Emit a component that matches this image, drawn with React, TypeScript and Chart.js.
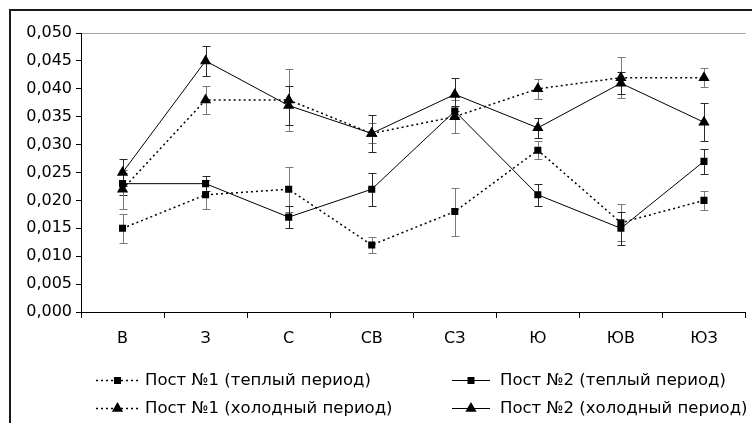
import React, { useEffect, useRef } from "react";
import { Chart, registerables } from "chart.js";

Chart.register(...registerables);

// ---- Data ----
const categories = ["В", "З", "С", "СВ", "СЗ", "Ю", "ЮВ", "ЮЗ"];

const seriesNames = [
  "Пост №1 (теплый период)",
  "Пост №2 (теплый период)",
  "Пост №1 (холодный период)",
  "Пост №2 (холодный период)",
];

const post1Warm = [0.015, 0.021, 0.022, 0.012, 0.018, 0.029, 0.016, 0.020];
const post1WarmErr = [0.0026, 0.0026, 0.004, 0.0014, 0.0043, 0.0016, 0.0033, 0.0017];

const post2Warm = [0.023, 0.023, 0.017, 0.022, 0.036, 0.021, 0.015, 0.027];
const post2WarmErr = [0.002, 0.0014, 0.002, 0.003, 0.001, 0.002, 0.003, 0.0023];

const post1Cold = [0.022, 0.038, 0.038, 0.032, 0.035, 0.040, 0.042, 0.042];
const post1ColdErr = [0.0035, 0.0025, 0.0055, 0.0018, 0.003, 0.0018, 0.0037, 0.0017];

const post2Cold = [0.025, 0.045, 0.037, 0.032, 0.039, 0.033, 0.041, 0.034];
const post2ColdErr = [0.0025, 0.0027, 0.0035, 0.0033, 0.003, 0.0018, 0.002, 0.0034];

const yMin = 0;
const yMax = 0.05;
const yStep = 0.005;

const FONT = "'DejaVu Sans', sans-serif";

type DS = {
  values: number[];
  errors: number[];
  dotted: boolean;
  marker: "rect" | "triangle";
  errColor: string;
};

const seriesDefs: DS[] = [
  { values: post1Warm, errors: post1WarmErr, dotted: true, marker: "rect", errColor: "#7a7a7a" },
  { values: post2Warm, errors: post2WarmErr, dotted: false, marker: "rect", errColor: "#2a2a2a" },
  { values: post1Cold, errors: post1ColdErr, dotted: true, marker: "triangle", errColor: "#7a7a7a" },
  { values: post2Cold, errors: post2ColdErr, dotted: false, marker: "triangle", errColor: "#2a2a2a" },
];

const errorBarPlugin = {
  id: "errorBars",
  beforeDatasetsDraw(chart: any) {
    const ctx = chart.ctx;
    const yScale = chart.scales.y;
    ctx.save();
    ctx.lineWidth = 1;
    seriesDefs.forEach((s, i) => {
      const meta = chart.getDatasetMeta(i);
      ctx.strokeStyle = s.errColor;
      s.values.forEach((v, j) => {
        const el = meta.data[j];
        if (!el) return;
        const x = Math.round(el.x) + 0.5;
        const yHi = Math.round(yScale.getPixelForValue(v + s.errors[j])) + 0.5;
        const yLo = Math.round(yScale.getPixelForValue(v - s.errors[j])) + 0.5;
        const cap = 4;
        ctx.beginPath();
        ctx.moveTo(x, yHi);
        ctx.lineTo(x, yLo);
        ctx.moveTo(x - cap, yHi);
        ctx.lineTo(x + cap, yHi);
        ctx.moveTo(x - cap, yLo);
        ctx.lineTo(x + cap, yLo);
        ctx.stroke();
      });
    });
    ctx.restore();
  },
};

function drawMarker(ctx: CanvasRenderingContext2D, kind: string, x: number, y: number) {
  ctx.beginPath();
  if (kind === "rect") {
    ctx.rect(x - 3.5, y - 3.5, 7, 7);
  } else {
    const r = 6.5;
    ctx.moveTo(x, y - r);
    ctx.lineTo(x + r * 0.866, y + r * 0.5);
    ctx.lineTo(x - r * 0.866, y + r * 0.5);
    ctx.closePath();
  }
  ctx.fill();
}

const legendPlugin = {
  id: "customLegend",
  afterDraw(chart: any) {
    const ctx: CanvasRenderingContext2D = chart.ctx;
    const slots = [
      { x0: 85, x1: 128, tx: 134, y: 369 },
      { x0: 441, x1: 479, tx: 489, y: 369 },
      { x0: 85, x1: 128, tx: 134, y: 397 },
      { x0: 441, x1: 479, tx: 489, y: 397 },
    ];
    ctx.save();
    seriesDefs.forEach((s, i) => {
      const sl = slots[i];
      ctx.strokeStyle = "#000";
      ctx.fillStyle = "#000";
      ctx.lineWidth = s.dotted ? 1.5 : 1;
      ctx.setLineDash(s.dotted ? [2, 3] : []);
      ctx.beginPath();
      ctx.moveTo(sl.x0, sl.y + 0.5);
      ctx.lineTo(sl.x1, sl.y + 0.5);
      ctx.stroke();
      ctx.setLineDash([]);
      drawMarker(ctx, s.marker, (sl.x0 + sl.x1) / 2, sl.y + 0.5);
      ctx.font = `16.5px ${FONT}`;
      ctx.textBaseline = "middle";
      ctx.textAlign = "left";
      ctx.fillText(seriesNames[i], sl.tx, sl.y + 1);
    });
    ctx.restore();
  },
};

export default function App() {
  const canvasRef = useRef<HTMLCanvasElement | null>(null);

  useEffect(() => {
    const canvas = canvasRef.current;
    if (!canvas) return;
    const chart = new Chart(canvas, {
      type: "line",
      data: {
        labels: categories,
        datasets: seriesDefs.map((s, i) => ({
          label: seriesNames[i],
          data: s.values,
          borderColor: "#000",
          backgroundColor: "#000",
          borderWidth: s.dotted ? 1.5 : 1,
          borderDash: s.dotted ? [2, 3] : [],
          pointStyle: s.marker,
          pointRadius: s.marker === "rect" ? 5 : 6.5,
          pointBorderWidth: 0,
          pointBackgroundColor: "#000",
          tension: 0,
          fill: false,
        })),
      },
      options: {
        responsive: false,
        animation: false,
        layout: { padding: { top: 22, bottom: 71, left: 0, right: 0 } },
        plugins: {
          legend: { display: false },
          tooltip: { enabled: false },
        },
        scales: {
          x: {
            type: "category",
            offset: true,
            grid: {
              offset: true,
              drawOnChartArea: false,
              drawTicks: true,
              tickLength: 6,
              color: "#000",
              tickColor: "#000",
            },
            border: { display: true, color: "#000", width: 1 },
            ticks: {
              color: "#000",
              font: { family: FONT, size: 16 },
              padding: 11,
              maxRotation: 0,
              autoSkip: false,
            },
            afterFit: (scale: any) => {
              scale.height = 40;
            },
          },
          y: {
            min: yMin,
            max: yMax,
            grid: {
              drawTicks: true,
              tickLength: 5,
              color: (c: any) =>
                c.tick && c.tick.value >= yMax - 1e-9 ? "#a0a0a0" : "rgba(0,0,0,0)",
              tickColor: "#000",
            },
            border: { display: true, color: "#000", width: 1 },
            ticks: {
              stepSize: yStep,
              color: "#000",
              font: { family: FONT, size: 16 },
              padding: 4,
              callback: (v: any) => Number(v).toFixed(3).replace(".", ","),
            },
            afterFit: (scale: any) => {
              scale.width = 70;
            },
          },
        },
      },
      plugins: [errorBarPlugin, legendPlugin],
    });
    return () => chart.destroy();
  }, []);

  return (
    <div
      style={{
        position: "absolute",
        left: 9,
        top: 9,
        borderLeft: "2px solid #1a1a1a",
        borderTop: "2px solid #1a1a1a",
        background: "#fff",
      }}
    >
      <canvas ref={canvasRef} width={741} height={412} style={{ display: "block" }} />
    </div>
  );
}
